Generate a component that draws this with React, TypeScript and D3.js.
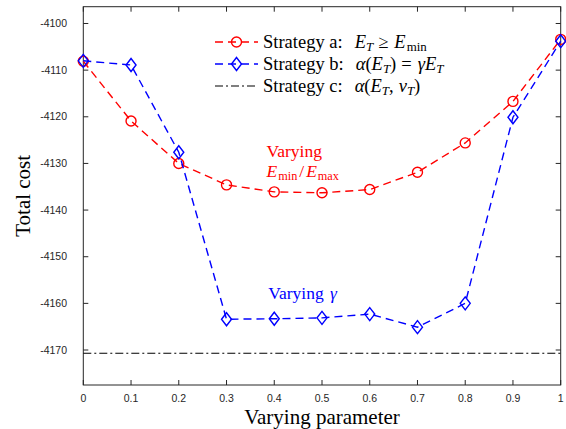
import React from "react";
import * as d3 from "d3";

const params = [0, 0.1, 0.2, 0.3, 0.4, 0.5, 0.6, 0.7, 0.8, 0.9, 1.0];
const strategyA = [-4108.1, -4120.9, -4130.0, -4134.6, -4136.1, -4136.3, -4135.6, -4131.9, -4125.6, -4116.7, -4103.4];
const strategyB = [-4108.0, -4108.9, -4127.6, -4163.4, -4163.3, -4163.1, -4162.3, -4165.1, -4160.0, -4120.1, -4103.8];
const strategyC = -4170.7;
const xTicks = [0, 0.1, 0.2, 0.3, 0.4, 0.5, 0.6, 0.7, 0.8, 0.9, 1];
const yTicks = [-4100, -4110, -4120, -4130, -4140, -4150, -4160, -4170];

const W = 566, H = 429;
const L = 83.3, R = 560.7, T = 6.7, B = 385;
const axisColor = "#262626";
const serif = "'Liberation Serif', serif";
const sans = "'Liberation Sans', sans-serif";

const x = d3.scaleLinear().domain([0, 1]).range([L, R]);
const y = d3.scaleLinear().domain([-4177.5, -4096.4]).range([B, T]);

const lineGen = d3.line<[number, number]>().x(d => x(d[0])).y(d => y(d[1]));

const Sub = ({ children, italic = true, dx = 0 }: { children: React.ReactNode; italic?: boolean; dx?: number }) => (
  <tspan fontSize="0.7em" dy="0.3em" dx={dx} style={{ fontStyle: italic ? "italic" : "normal" }}>{children}</tspan>
);
const I = ({ children, dx = 0 }: { children: React.ReactNode; dx?: number }) => <tspan dx={dx} style={{ fontStyle: "italic" }}>{children}</tspan>;

const Diamond = ({ cx, cy, color, rx = 5, ry = 6.5 }: any) => (
  <path d={`M${cx},${cy - ry}L${cx + rx},${cy}L${cx},${cy + ry}L${cx - rx},${cy}Z`} fill="none" stroke={color} strokeWidth={1.4} />
);

const serifStyle = (size: number) => ({ fontFamily: serif, fontSize: size + "px" });

export default function App() {
  const ptsA = params.map((p, i) => [p, strategyA[i]] as [number, number]);
  const ptsB = params.map((p, i) => [p, strategyB[i]] as [number, number]);
  const legendX1 = 215, legendX2 = 258, textX = 263;
  const rows = [42, 64, 86];
  const ls = serifStyle(18.5);
  const as = serifStyle(17.5);
  return (
    <svg width={W} height={H} style={{ position: "absolute", left: 0, top: 0, background: "#fff" }}>
      <rect x={0} y={0} width={W} height={H} fill="#fff" />
      <rect x={L} y={T} width={R - L} height={B - T} fill="none" stroke={axisColor} strokeWidth={1} />
      {xTicks.map(t => (
        <g key={"xt" + t}>
          <line x1={x(t)} x2={x(t)} y1={B} y2={B - 5} stroke={axisColor} />
          <line x1={x(t)} x2={x(t)} y1={T} y2={T + 5} stroke={axisColor} />
          <text x={x(t)} y={402} textAnchor="middle" style={{ fontFamily: sans, fontSize: "10.5px" }} fill={axisColor}>{String(t)}</text>
        </g>
      ))}
      {yTicks.map(t => (
        <g key={"yt" + t}>
          <line x1={L} x2={L + 5} y1={y(t)} y2={y(t)} stroke={axisColor} />
          <line x1={R} x2={R - 5} y1={y(t)} y2={y(t)} stroke={axisColor} />
          <text x={67} y={y(t) + 3.7} textAnchor="end" style={{ fontFamily: sans, fontSize: "10.5px" }} fill={axisColor}>{String(t)}</text>
        </g>
      ))}
      <line x1={L} x2={R} y1={y(strategyC)} y2={y(strategyC)} stroke="#000" strokeWidth={1.1} strokeDasharray="8,3,2,3" />
      <path d={lineGen(ptsA) || ""} fill="none" stroke="#ff0000" strokeWidth={1.4} strokeDasharray="8,5" />
      {ptsA.map((d, i) => (
        <circle key={"a" + i} cx={x(d[0])} cy={y(d[1])} r={5} fill="none" stroke="#ff0000" strokeWidth={1.4} />
      ))}
      <path d={lineGen(ptsB) || ""} fill="none" stroke="#0000ff" strokeWidth={1.4} strokeDasharray="8,5" />
      {ptsB.map((d, i) => (
        <Diamond key={"b" + i} cx={x(d[0])} cy={y(d[1])} color="#0000ff" />
      ))}
      <line x1={legendX1} x2={legendX2} y1={rows[0]} y2={rows[0]} stroke="#ff0000" strokeWidth={1.4} strokeDasharray="8,5" />
      <circle cx={(legendX1 + legendX2) / 2} cy={rows[0]} r={5} fill="none" stroke="#ff0000" strokeWidth={1.4} />
      <line x1={legendX1} x2={legendX2} y1={rows[1]} y2={rows[1]} stroke="#0000ff" strokeWidth={1.4} strokeDasharray="8,5" />
      <Diamond cx={(legendX1 + legendX2) / 2} cy={rows[1]} color="#0000ff" />
      <line x1={legendX1} x2={legendX2} y1={rows[2]} y2={rows[2]} stroke="#000" strokeWidth={1.1} strokeDasharray="8,3,2,3" />
      <text x={textX} y={rows[0] + 5.5} style={ls} fill="#000">
        Strategy a:<I dx={12}>E</I><Sub>T</Sub><tspan dy="-0.21em" dx={5}>{"\u2265"}</tspan><I dx={6}>E</I><Sub italic={false} dx={1}>min</Sub>
      </text>
      <text x={textX} y={rows[1] + 5.5} style={ls} fill="#000">
        Strategy b:<I dx={12}>α</I>(<I>E</I><Sub>T</Sub><tspan dy="-0.21em">)</tspan><tspan dx={5}>=</tspan><I dx={6}>γ</I><I>E</I><Sub>T</Sub>
      </text>
      <text x={textX} y={rows[2] + 5.5} style={ls} fill="#000">
        Strategy c:<I dx={12}>α</I>(<I>E</I><Sub>T</Sub><tspan dy="-0.21em">,</tspan><I dx={5}>v</I><Sub>T</Sub><tspan dy="-0.21em">)</tspan>
      </text>
      <text x={266.5} y={156.7} fill="#ff0000" style={as}>Varying</text>
      <text x={266.5} y={176.7} fill="#ff0000" style={as}>
        <I>E</I><Sub italic={false} dx={1}>min</Sub><tspan dy="-0.21em" dx={2}>/</tspan><I dx={2}>E</I><Sub italic={false} dx={1}>max</Sub>
      </text>
      <text x={268.3} y={298.5} fill="#0000ff" style={as}>Varying <I dx={2}>γ</I></text>
      <text x={(L + R) / 2} y={424} textAnchor="middle" style={serifStyle(21)} fill="#000">Varying parameter</text>
      <text transform={`translate(30,${(T + B) / 2}) rotate(-90)`} textAnchor="middle" style={serifStyle(21)} fill="#000">Total cost</text>
    </svg>
  );
}
